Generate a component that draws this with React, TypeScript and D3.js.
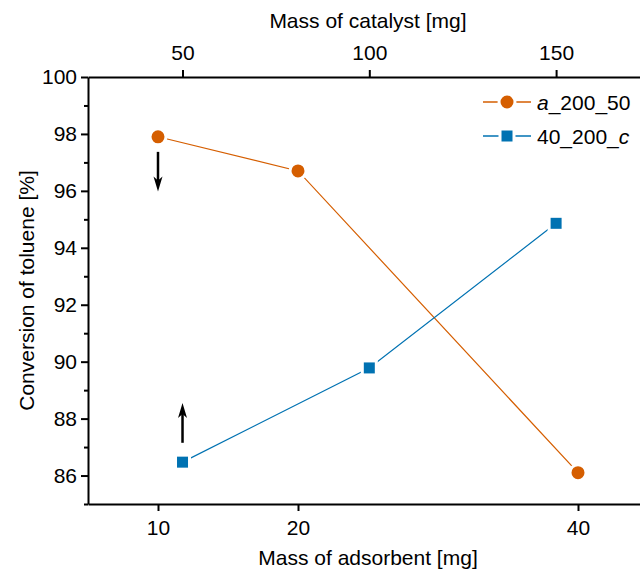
import React, { useEffect, useRef } from 'react';
import * as d3 from 'd3';

// series
const adsorbentMass = [10, 20, 40];
const conversionA = [97.9, 96.7, 86.1];
const catalystMass = [50, 100, 150];
const conversionC = [86.47, 89.78, 94.86];

// axis ticks
const yMajorTicks = [86, 88, 90, 92, 94, 96, 98, 100];
const yMinorTicks = [85, 87, 89, 91, 93, 95, 97, 99];
const bottomTicks = [10, 20, 40];
const topTicks = [50, 100, 150];

// legend names: [text, italic]
const legendA: [string, boolean][] = [['a', true], ['_200_50', false]];
const legendC: [string, boolean][] = [['40_200_', false], ['c', true]];

// arrows pointing to the axis each series belongs to
const arrowA = { x: 10, from: 97.37, to: 95.98 };
const arrowC = { x: 50, from: 87.15, to: 88.55 };

const ORANGE = '#D55E00';
const BLUE = '#0072B2';
const FONT = '"Liberation Sans", Arial, Helvetica, sans-serif';
const FS = 21;

const App = () => {
  const ref = useRef<SVGSVGElement>(null);

  useEffect(() => {
    if (!ref.current) return;
    const svg = d3.select(ref.current);
    svg.selectAll('*').remove();

    const left = 88, right = 648, top = 77, bottom = 504;

    const xBottom = d3.scaleLinear().domain([5, 45]).range([left, right]);
    const xTop = d3.scaleLinear().domain([24.7, 174.6]).range([left, right]);
    const y = d3.scaleLinear().domain([85, 100]).range([bottom, top]);

    const g = svg.append('g').attr('font-family', FONT);

    const styleAxis = (sel: d3.Selection<SVGGElement, unknown, null, undefined>) => {
      sel.select('.domain').attr('stroke', '#000').attr('stroke-width', 2);
      sel.selectAll('.tick line').attr('stroke', '#000').attr('stroke-width', 2);
      sel.selectAll('.tick text').attr('font-size', FS).attr('fill', '#000').attr('font-family', FONT);
    };

    // left axis
    g.append('g')
      .attr('transform', `translate(${left},0)`)
      .call(d3.axisLeft(y).tickValues(yMajorTicks).tickSize(7).tickSizeOuter(0).tickPadding(4).tickFormat(d3.format('d')))
      .call(styleAxis);
    g.append('g')
      .attr('transform', `translate(${left},0)`)
      .call(d3.axisLeft(y).tickValues(yMinorTicks).tickSize(4).tickSizeOuter(0).tickFormat(() => ''))
      .call(sel => sel.select('.domain').remove())
      .call(sel => sel.selectAll('.tick line').attr('stroke', '#000').attr('stroke-width', 2));

    // bottom axis
    g.append('g')
      .attr('transform', `translate(0,${bottom})`)
      .call(d3.axisBottom(xBottom).tickValues(bottomTicks).tickSize(7).tickSizeOuter(0).tickPadding(9))
      .call(styleAxis);

    // top axis
    g.append('g')
      .attr('transform', `translate(0,${top})`)
      .call(d3.axisTop(xTop).tickValues(topTicks).tickSize(7).tickSizeOuter(0).tickPadding(10))
      .call(styleAxis);

    // axis titles
    g.append('text')
      .attr('x', (left + right) / 2).attr('y', 28)
      .attr('text-anchor', 'middle').attr('font-size', FS)
      .text('Mass of catalyst [mg]');
    g.append('text')
      .attr('x', (left + right) / 2).attr('y', 565)
      .attr('text-anchor', 'middle').attr('font-size', FS)
      .text('Mass of adsorbent [mg]');
    g.append('text')
      .attr('transform', `translate(34,${(top + bottom) / 2}) rotate(-90)`)
      .attr('text-anchor', 'middle').attr('font-size', FS)
      .text('Conversion of toluene [%]');

    // series A vs adsorbent mass, series C vs catalyst mass
    const dataA = adsorbentMass.map((m, i) => [xBottom(m), y(conversionA[i])] as [number, number]);
    const dataC = catalystMass.map((m, i) => [xTop(m), y(conversionC[i])] as [number, number]);
    const line = d3.line();

    g.append('path').attr('d', line(dataA)).attr('fill', 'none').attr('stroke', ORANGE).attr('stroke-width', 1.2);
    g.append('path').attr('d', line(dataC)).attr('fill', 'none').attr('stroke', BLUE).attr('stroke-width', 1.2);

    const drawCircle = (cx: number, cy: number) =>
      g.append('circle').attr('cx', cx).attr('cy', cy).attr('r', 8)
        .attr('fill', ORANGE).attr('stroke', '#fff').attr('stroke-width', 3);
    const drawSquare = (cx: number, cy: number) =>
      g.append('rect').attr('x', cx - 7).attr('y', cy - 7).attr('width', 14).attr('height', 14)
        .attr('fill', BLUE).attr('stroke', '#fff').attr('stroke-width', 3);

    dataA.forEach(([cx, cy]) => drawCircle(cx, cy));
    dataC.forEach(([cx, cy]) => drawSquare(cx, cy));

    // arrows
    const drawArrow = (x: number, y0: number, y1: number) => {
      const dir = y1 > y0 ? 1 : -1;
      const headLen = 15, headW = 4.5, notch = 4;
      g.append('line')
        .attr('x1', x).attr('x2', x)
        .attr('y1', y0).attr('y2', y1 - dir * headLen * 0.6)
        .attr('stroke', '#000').attr('stroke-width', 2.5);
      const base = y1 - dir * headLen;
      g.append('path')
        .attr('d', `M${x},${y1} L${x - headW},${base} L${x},${base + dir * notch} L${x + headW},${base} Z`)
        .attr('fill', '#000');
    };
    drawArrow(xBottom(arrowA.x), y(arrowA.from), y(arrowA.to));
    drawArrow(xTop(arrowC.x), y(arrowC.from), y(arrowC.to));

    // legend
    const legendItems = [
      { name: legendA, color: ORANGE, marker: 'circle', yPos: 102 },
      { name: legendC, color: BLUE, marker: 'square', yPos: 136 },
    ];
    legendItems.forEach(item => {
      g.append('line')
        .attr('x1', 483).attr('x2', 531).attr('y1', item.yPos).attr('y2', item.yPos)
        .attr('stroke', item.color).attr('stroke-width', 1.5);
      if (item.marker === 'circle') drawCircle(507, item.yPos);
      else drawSquare(507, item.yPos);
      const t = g.append('text').attr('x', 537).attr('y', item.yPos + 7.5).attr('font-size', FS);
      item.name.forEach(([s, it]) => {
        t.append('tspan').attr('font-style', it ? 'italic' : 'normal').text(s);
      });
    });
  }, []);

  return (
    <svg
      ref={ref}
      width={640}
      height={570}
      style={{ position: 'absolute', left: 0, top: 0, background: '#fff' }}
    />
  );
};

export default App;
